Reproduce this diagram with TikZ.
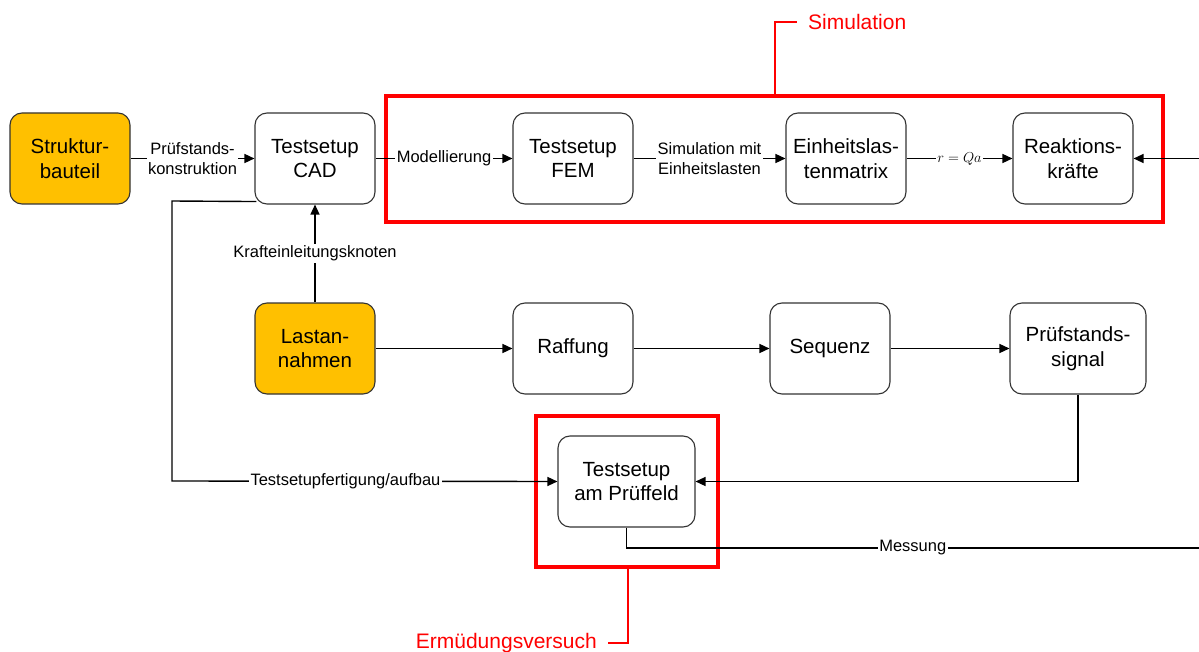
\documentclass[tikz,border=0pt]{standalone}
\usepackage{fontspec}
\setmainfont{Liberation Sans}
\usetikzlibrary{arrows.meta}
\definecolor{boxorange}{HTML}{FFC000}
\definecolor{boxborder}{HTML}{333333}
\begin{document}
\begin{tikzpicture}[x=1pt,y=-1pt,
 box/.style={draw=boxborder, line width=1.1pt, rounded corners=12pt, fill=white, minimum width=120pt, minimum height=91pt, align=center, font=\fontsize{20.5}{24.5}\selectfont, inner sep=0pt},
 inbox/.style={box, fill=boxorange},
 wire/.style={line width=1.4pt},
 conn/.style={wire, -{Triangle[length=10pt,width=9pt]}},
 lbl/.style={fill=white, inner sep=1.5pt, align=center, font=\fontsize{16.5}{20}\selectfont},
 redbox/.style={draw=red, line width=4.5pt},
 callout/.style={draw=red, line width=1.6pt},
 redtxt/.style={text=red, font=\fontsize{21}{25}\selectfont, inner sep=0pt}]
\useasboundingbox (0,0) rectangle (1199,652);

% red frames
\draw[redbox] (386,96) rectangle (1163,222);
\draw[redbox] (536,416) rectangle (718,567);

% nodes
\node[inbox] (struk) at (70,158.5) {Struktur-\\bauteil};
\node[box] (cad) at (315,158.5) {Testsetup\\CAD};
\node[box] (fem) at (573,158.5) {Testsetup\\FEM};
\node[box] (einh) at (846,158.5) {Einheitslas-\\tenmatrix};
\node[box] (reak) at (1073,158.5) {Reaktions-\\kräfte};
\node[inbox] (last) at (315,348.5) {Lastan-\\nahmen};
\node[box] (raff) at (573,348.5) {Raffung};
\node[box] (seq) at (830,348.5) {Sequenz};
\node[box, minimum width=136pt] (sig) at (1078,348.5) {Prüfstands-\\signal};
\node[box, minimum width=137pt] (feld) at (626.5,481.5) {Testsetup\\am Prüffeld};

% callouts
\node[redtxt, anchor=west] (simlbl) at (808,22) {Simulation};
\draw[callout] (775,96) |- ([xshift=-11pt]simlbl.west);
\node[redtxt, anchor=east] (ermlbl) at (597,643) {Ermüdungsversuch};
\draw[callout] (628,567) |- ([xshift=11pt]ermlbl.east);

% free ends
\coordinate (rin) at (1199,158.5);
\coordinate (mout) at (1199,548);

% connectors
\draw[conn] (struk) -- node[lbl]{Prüfstands-\\konstruktion} (cad);
\draw[conn] (cad) -- node[lbl]{Modellierung} (fem);
\draw[conn] (fem) -- node[lbl]{Simulation mit\\Einheitslasten} (einh);
\draw[conn] (einh) -- node[lbl, font=\fontsize{15}{17}\selectfont]{$r = Qa$} (reak);
\draw[conn] (rin) -- (reak);
\draw[conn] (last) -- node[lbl]{Krafteinleitungsknoten} (cad);
\draw[conn] (last) -- (raff);
\draw[conn] (raff) -- (seq);
\draw[conn] (seq) -- (sig);
\draw[conn] (sig.south) |- (feld.east);
\draw[conn] ([xshift=2pt,yshift=3pt]cad.south west) -- (172,201) -- (172,481)
  -- node[lbl, pos=0.45]{Testsetupfertigung/aufbau} (feld.west);
\draw[wire] (feld.south) |- node[lbl, pos=0.75]{Messung} (mout);
\end{tikzpicture}
\end{document}
